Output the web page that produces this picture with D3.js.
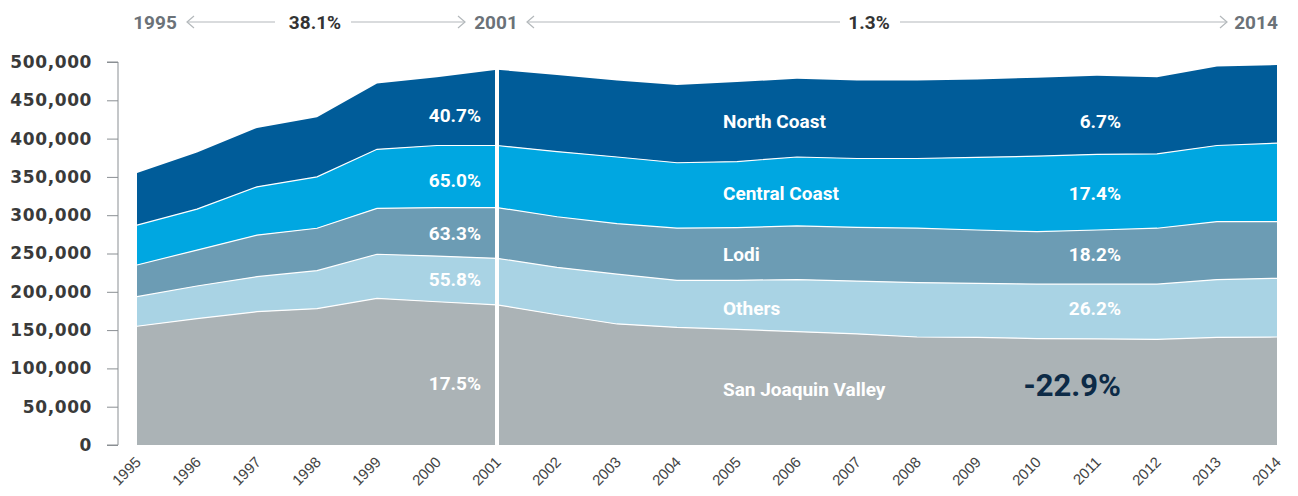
<!DOCTYPE html>
<meta charset="utf-8">
<style>
  body { margin: 0; background: #fff; }
  svg text { font-family: Roboto, "Open Sans", sans-serif; }
</style>
<svg width="1298" height="496"></svg>
<script src="https://cdn.jsdelivr.net/npm/d3@7"></script>
<script>

var years = [1995,1996,1997,1998,1999,2000,2001,2002,2003,2004,2005,2006,2007,2008,2009,2010,2011,2012,2013,2014];

// tons crushed, thousands
var sanJoaquin   = [155,165,174,178,191.5,187,183,170,158,153.5,151,148,145,141,140.5,139,138.5,138,140.5,141];
var others       = [38.6,42.6,45.7,49.6,57.5,59.7,60.7,62,65,61.5,64,68,69,71,70.5,71,71.5,72,75.5,76.6];
var lodi         = [41.4,46.9,54.3,55.4,60,63.3,66.3,66,66,68,68.7,70,70,71,69.7,68.5,70.7,73,75.5,73.9];
var centralCoast = [52,53.5,63,67,77,81,81,85,87,85.5,86.3,90,90,91,94.9,98.5,98.8,97,99.5,102.5];
var northCoast   = [68,74,77,78,86,89,99,100,100,101.5,104,102,102,102,101.4,102.5,102.5,100,103,102];

var regions = ["San Joaquin Valley", "Others", "Lodi", "Central Coast", "North Coast"];
var colors  = ["#abb3b6", "#a9d3e4", "#6c9cb4", "#00a7e1", "#005c99"];
var growthEarly = ["17.5%", "55.8%", "63.3%", "65.0%", "40.7%"];   // 1995-2001
var growthLate  = ["-22.9%", "26.2%", "18.2%", "17.4%", "6.7%"];   // 2001-2014
var yTicks = [0,50000,100000,150000,200000,250000,300000,350000,400000,450000,500000];

var series = [sanJoaquin, others, lodi, centralCoast, northCoast];
var rows = years.map(function(y, i) {
  var r = {year: y};
  regions.forEach(function(k, j) { r[k] = series[j][i] * 1000; });
  return r;
});

var svg = d3.select("svg");

var x = d3.scaleLinear().domain([1995, 2014]).range([137, 1277]);
var y = d3.scaleLinear().domain([0, 500000]).range([445, 62]);

var stack = d3.stack().keys(regions);
var layers = stack(rows);

var area = d3.area()
    .x(function(d) { return x(d.data.year); })
    .y0(function(d) { return y(d[0]); })
    .y1(function(d) { return y(d[1]); });

var topLine = d3.line()
    .x(function(d) { return x(d.data.year); })
    .y(function(d) { return y(d[1]); });

svg.append("g").selectAll("path")
    .data(layers)
    .enter().append("path")
    .attr("d", area)
    .attr("fill", function(d, i) { return colors[i]; });

svg.append("g").selectAll("path")
    .data(layers.slice(0, 4))
    .enter().append("path")
    .attr("d", topLine)
    .attr("fill", "none")
    .attr("stroke", "#fff")
    .attr("stroke-width", 1.2);

// divider at 2001
svg.append("line")
    .attr("x1", x(2001)).attr("x2", x(2001))
    .attr("y1", y(layers[4][6][1]) - 2).attr("y2", 446)
    .attr("stroke", "#fff").attr("stroke-width", 4);

// y axis
var yAxis = d3.axisLeft(y).tickValues(yTicks).tickFormat(d3.format(",")).tickSize(11).tickPadding(15);
var gy = svg.append("g").attr("transform", "translate(118,0)").call(yAxis);
gy.select(".domain").attr("stroke", "#8a8f93").attr("d", "M-11,62H0V445H-11");
gy.selectAll(".tick line").attr("stroke", "#8a8f93");
gy.selectAll(".tick text")
    .attr("fill", "#3a3a3a")
    .style("font-family", "'DejaVu Sans', sans-serif")
    .style("font-weight", "bold")
    .style("font-size", "17px")
    .style("letter-spacing", "0.6px");

// x labels
svg.append("g").selectAll("text")
    .data(years)
    .enter().append("text")
    .attr("transform", function(d) { return "translate(" + (x(d) + 5) + ",463) rotate(-45)"; })
    .attr("text-anchor", "end")
    .attr("fill", "#444")
    .style("font-family", "'Liberation Sans', sans-serif")
    .style("font-size", "15px")
    .text(function(d) { return d; });

// labels in the areas
var labelY = [383, 279, 233, 180, 115];
var labelY2 = [389, 308, 254, 193, 121];

svg.append("g").selectAll("text")
    .data(growthEarly)
    .enter().append("text")
    .attr("x", 481).attr("y", function(d, i) { return labelY[i]; })
    .attr("dy", "0.35em")
    .attr("text-anchor", "end")
    .attr("fill", "#fff")
    .style("font-weight", "bold").style("font-size", "19px")
    .text(function(d) { return d; });

svg.append("g").selectAll("text")
    .data(regions)
    .enter().append("text")
    .attr("x", 723).attr("y", function(d, i) { return labelY2[i]; })
    .attr("dy", "0.35em")
    .attr("fill", "#fff")
    .style("font-weight", "bold").style("font-size", "19px")
    .text(function(d) { return d; });

svg.append("g").selectAll("text")
    .data(growthLate)
    .enter().append("text")
    .attr("x", 1121).attr("y", function(d, i) { return i === 0 ? 385 : labelY2[i]; })
    .attr("dy", "0.35em")
    .attr("text-anchor", "end")
    .attr("fill", function(d, i) { return i === 0 ? "#0d2b47" : "#fff"; })
    .style("font-weight", "bold")
    .style("font-size", function(d, i) { return i === 0 ? "31px" : "19px"; })
    .text(function(d) { return d; });

// header: growth over the two periods
var head = svg.append("g");
var arrows = [[187, 275, "left"], [351, 465, "right"], [527, 840, "left"], [900, 1227, "right"]];
arrows.forEach(function(a) {
  head.append("line").attr("x1", a[0]).attr("x2", a[1]).attr("y1", 22).attr("y2", 22)
      .attr("stroke", "#b3b8bb").attr("stroke-width", 1.2);
  var tip = a[2] === "left" ? a[0] : a[1];
  var s = a[2] === "left" ? 1 : -1;
  head.append("path")
      .attr("d", "M" + (tip + 7 * s) + ",16L" + tip + ",22L" + (tip + 7 * s) + ",28")
      .attr("fill", "none").attr("stroke", "#b3b8bb").attr("stroke-width", 1.2);
});
var headText = [[155, "1995", "#6b7278"], [315, "38.1%", "#333"], [496, "2001", "#6b7278"], [869, "1.3%", "#333"], [1256, "2014", "#6b7278"]];
head.selectAll("text")
    .data(headText)
    .enter().append("text")
    .attr("x", function(d) { return d[0]; })
    .attr("y", 22).attr("dy", "0.35em")
    .attr("text-anchor", "middle")
    .attr("fill", function(d) { return d[2]; })
    .style("font-weight", "bold").style("font-size", "19px")
    .text(function(d) { return d[1]; });

</script>
